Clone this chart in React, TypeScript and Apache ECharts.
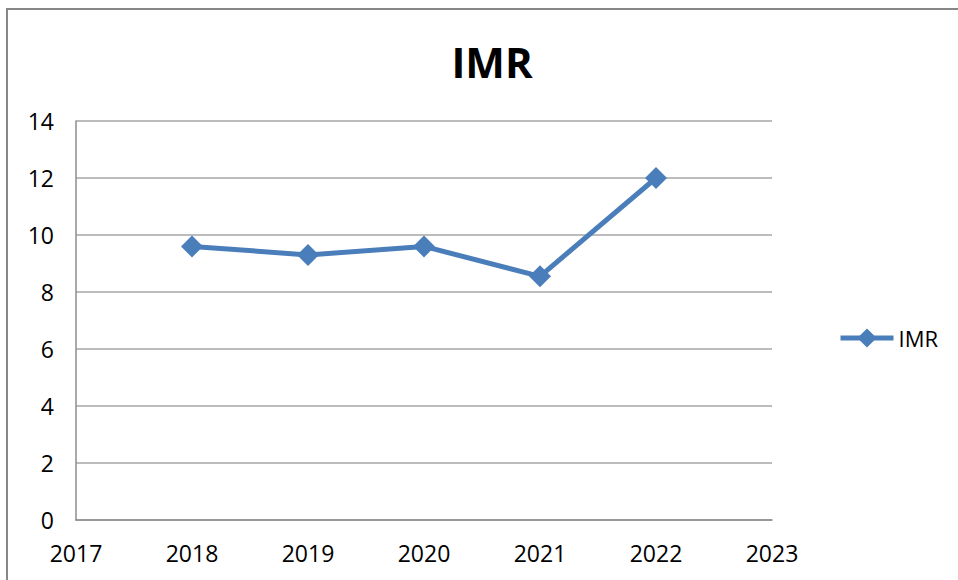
import React, { useEffect, useRef } from "react";
import * as echarts from "echarts";

const years = [2018, 2019, 2020, 2021, 2022];
const imrValues = [9.6, 9.3, 9.6, 8.55, 12];
const seriesName = "IMR";
const titleText = "IMR";

export default function App() {
  const ref = useRef<HTMLDivElement>(null);
  useEffect(() => {
    if (!ref.current) return;
    const chart = echarts.init(ref.current, null, { renderer: "svg" });
    const font = "'Open Sans', 'Noto Sans', sans-serif";
    chart.setOption({
      animation: false,
      backgroundColor: "#ffffff",
      textStyle: { fontFamily: font },
      title: {
        text: titleText,
        left: 487,
        textAlign: "center",
        top: 35,
        textStyle: { fontSize: 42, fontWeight: "bold", color: "#000", fontFamily: font },
      },
      graphic: [
        {
          type: "rect",
          shape: { x: 7, y: 9, width: 1100, height: 1000 },
          style: { fill: "none", stroke: "#878787", lineWidth: 2 },
          silent: true,
        },
      ],
      legend: {
        left: 838,
        top: 327,
        padding: 0,
        itemWidth: 53,
        itemHeight: 24,
        itemGap: 6,
        lineStyle: { width: 5 },
        textStyle: { fontSize: 22, color: "#000", fontFamily: font },
        data: [seriesName],
      },
      grid: { left: 76, top: 121, right: 186, bottom: 60, containLabel: false },
      xAxis: {
        type: "value",
        min: 2017,
        max: 2023,
        interval: 1,
        axisLine: { show: true, lineStyle: { color: "#8c8c8c", width: 1.5 } },
        axisTick: { show: false },
        splitLine: { show: false },
        axisLabel: {
          fontSize: 23,
          color: "#000",
          margin: 21,
          fontFamily: font,
          formatter: (v: number) => String(v),
        },
      },
      yAxis: {
        type: "value",
        min: 0,
        max: 14,
        interval: 2,
        axisLine: { show: true, lineStyle: { color: "#8c8c8c", width: 1.5 } },
        axisTick: { show: false },
        splitLine: { show: true, lineStyle: { color: "#a6a6a6", width: 1.5 } },
        axisLabel: { fontSize: 23, color: "#000", margin: 22, fontFamily: font },
      },
      series: [
        {
          name: seriesName,
          type: "line",
          data: years.map((y, i) => [y, imrValues[i]]),
          symbol: "diamond",
          symbolSize: 22,
          lineStyle: { color: "#4a7ebb", width: 5 },
          itemStyle: { color: "#4a7ebb" },
        },
      ],
    });
    return () => chart.dispose();
  }, []);
  return (
    <div
      ref={ref}
      style={{ position: "fixed", left: 0, top: 0, width: 958, height: 580 }}
    />
  );
}
